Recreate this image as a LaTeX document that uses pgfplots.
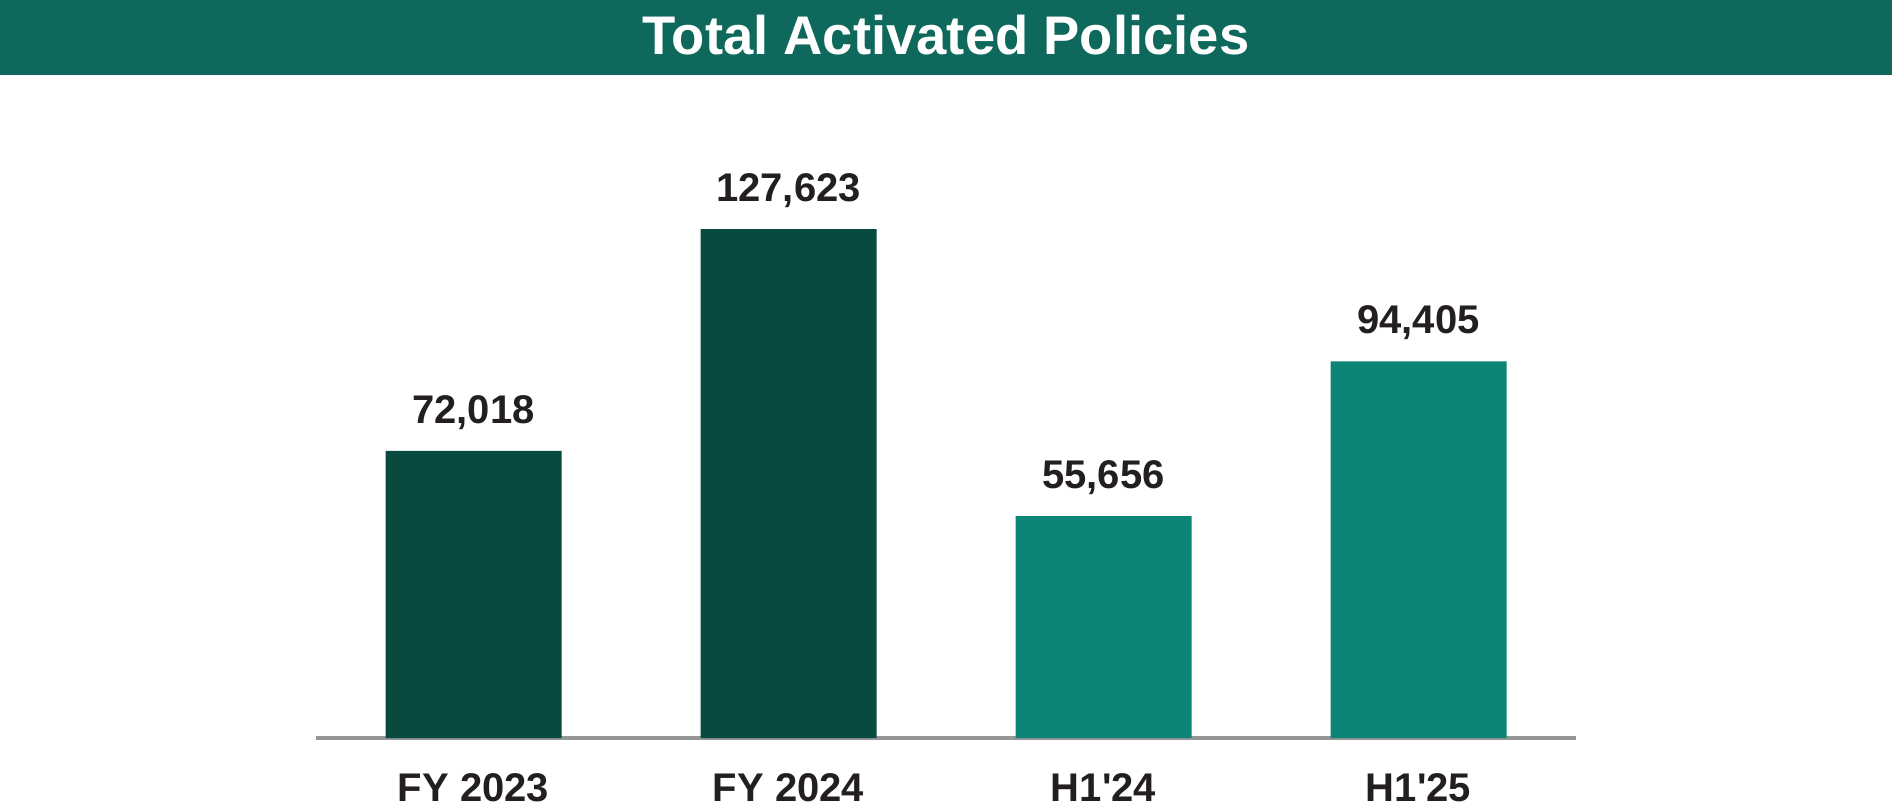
\documentclass[border=0pt]{standalone}
\usepackage{fontspec}
\setmainfont{Liberation Sans}
\usepackage{pgfplots}
\pgfplotsset{compat=1.18}

\definecolor{headcol}{RGB}{14,104,92}
\definecolor{darkbar}{RGB}{8,73,64}
\definecolor{lightbar}{RGB}{12,133,119}
\definecolor{txt}{RGB}{35,31,32}
\definecolor{axisgray}{RGB}{150,150,150}

\begin{document}
\begin{tikzpicture}
    % canvas 1892x810 px at 0.5pt per px
    \useasboundingbox (0,0) rectangle (946pt,405pt);
    \fill[headcol] (0,367.5pt) rectangle (946pt,405pt);
    \node[anchor=base, text=white, font=\bfseries\fontsize{27.2}{30}\selectfont, inner sep=0pt]
        at (473pt,377.5pt) {Total Activated Policies};

    \begin{axis}[
        at={(158pt,36pt)}, anchor=south west,
        scale only axis,
        width=630pt, height=279.18pt,
        xmin=-0.5, xmax=3.5,
        ymin=0, ymax=140000,
        axis x line*=bottom,
        axis y line=none,
        axis line style={axisgray, line width=1.6pt, -},
        xtick={0,1,2,3},
        xticklabels={FY 2023, FY 2024, H1\textquotesingle 24, H1\textquotesingle 25},
        major tick length=0pt,
        xticklabel style={anchor=base, yshift=-31.5pt, text=txt,
                          font=\bfseries\fontsize{20}{24}\selectfont},
        ybar, bar width=88pt,
        clip=false,
        nodes near coords,
        every node near coord/.append style={anchor=base, yshift=13.75pt, text=txt,
                          font=\bfseries\fontsize{20}{24}\selectfont},
        /pgf/number format/.cd, fixed, precision=0, 1000 sep={,}, assume math mode=true,
    ]
        % full-year figures
        \addplot[fill=darkbar, draw=none, bar shift=0pt] coordinates {
            (0,72018)
            (1,127623)
        };
        % half-year figures
        \addplot[fill=lightbar, draw=none, bar shift=0pt] coordinates {
            (2,55656)
            (3,94405)
        };
    \end{axis}
\end{tikzpicture}
\end{document}
